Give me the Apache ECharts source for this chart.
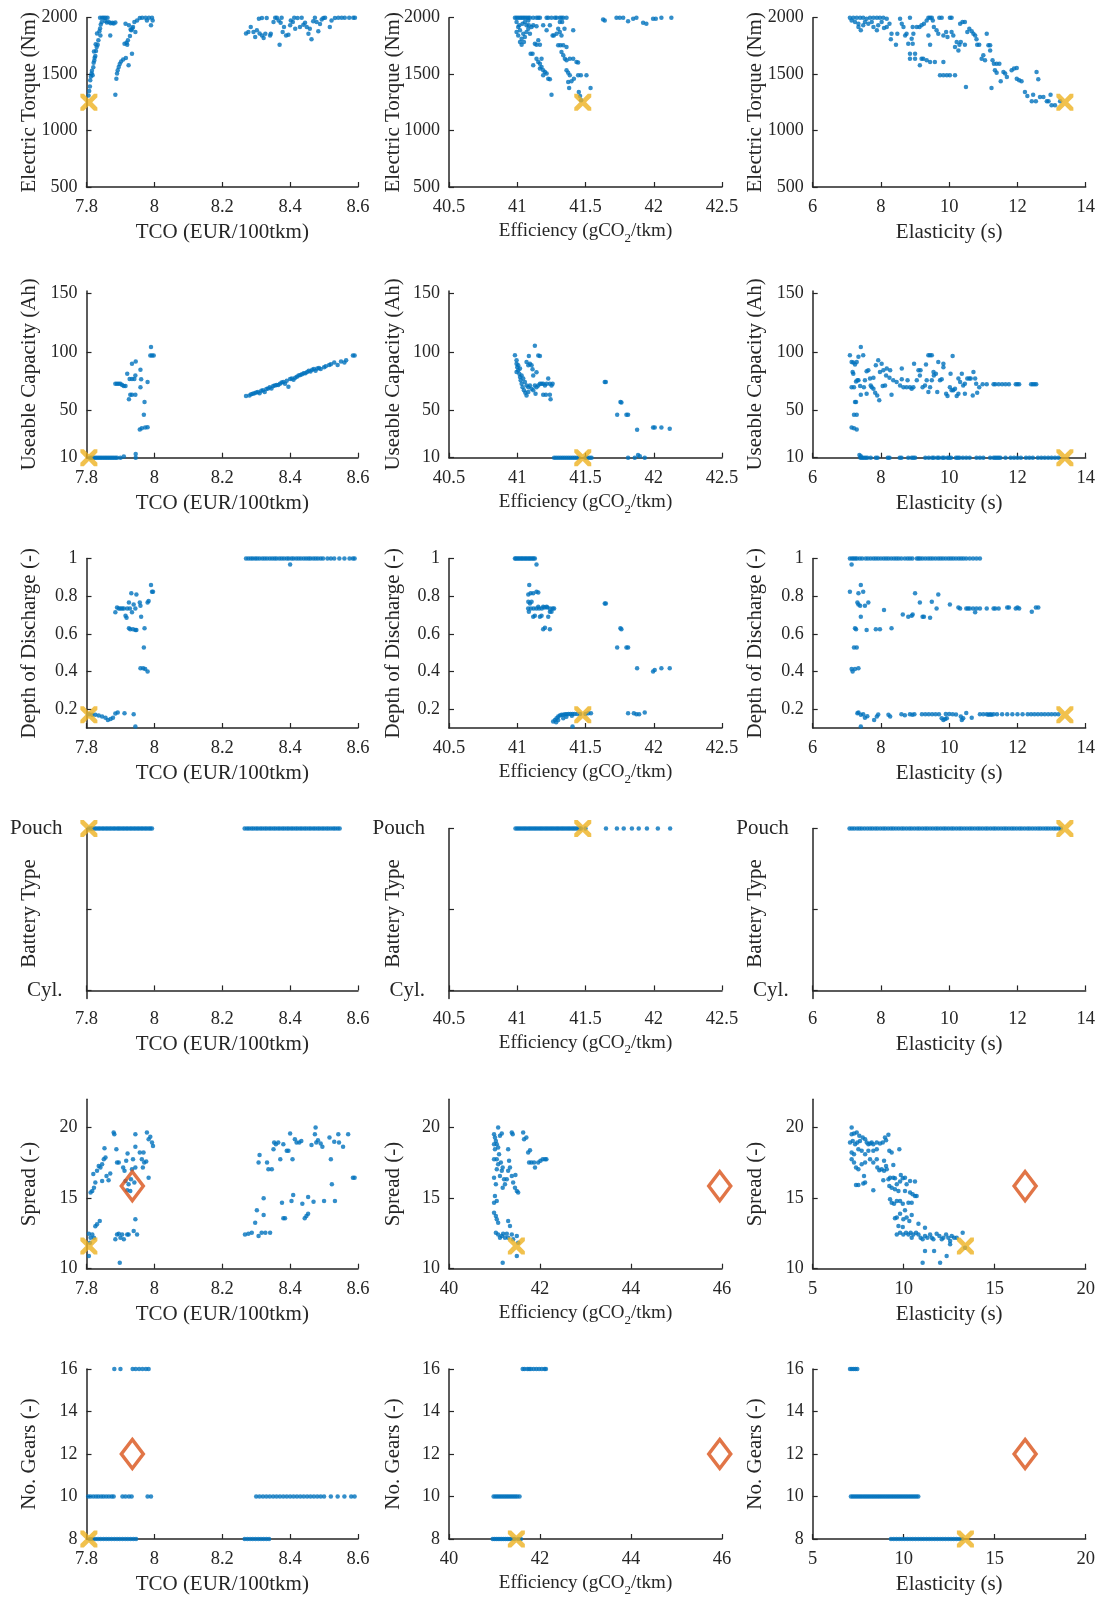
<!DOCTYPE html>
<html><head><meta charset="utf-8">
<script src="https://cdn.jsdelivr.net/npm/echarts@6/dist/echarts.min.js"></script>
<style>html,body{margin:0;padding:0;background:#fff}#c{width:1101px;height:1599px}</style>
</head><body><div id="c"></div>
<script>
// ---------- DATA ----------
const xNames = ['TCO (EUR/100tkm)', 'Efficiency (gCO{s|2}/tkm)', 'Elasticity (s)'];
const yNames = ['Electric Torque (Nm)', 'Useable Capacity (Ah)', 'Depth of Discharge (-)', 'Battery Type', 'Spread (-)', 'No. Gears (-)'];
const xTicksTop = [[7.8, 8, 8.2, 8.4, 8.6], [40.5, 41, 41.5, 42, 42.5], [6, 8, 10, 12, 14]];
const xTicksLow = [[7.8, 8, 8.2, 8.4, 8.6], [40, 42, 44, 46], [5, 10, 15, 20]];
const yTicks = [[500, 1000, 1500, 2000], [10, 50, 100, 150], [0.2, 0.4, 0.6, 0.8, 1], [0, 0.5, 1], [10, 15, 20], [8, 10, 12, 14, 16]];
const yRange = [[500, 2000], [10, 152], [0.1, 1], [-0.05, 1], [10, 22], [8, 16]];
const typeLabels = ['Cyl.', 'Pouch'];

// best design (X) and reference (diamond)
const bestObj = [7.807, 41.48, 13.39];
const bestPar = [1250, 10, 0.17, 1, 11.6, 8];
const refObj = [7.935, 45.95, 16.67];
const refPar = [null, null, null, null, 15.85, 12];

const torqueTco = [[7.806,1310],[7.808,1350],[7.81,1390],[7.811,1445],[7.813,1480],[7.815,1505],[7.816,1530],[7.818,1490],[7.82,1560],[7.821,1600],[7.823,1620],[7.824,1645],[7.826,1660],[7.822,1700],[7.828,1705],[7.83,1740],[7.833,1760],[7.827,1765],[7.835,1800],[7.831,1860],[7.838,1880],[7.84,1905],[7.842,1940],[7.845,1962],[7.84,2000],[7.846,2000],[7.851,2000],[7.856,2000],[7.862,2000],[7.855,1970],[7.86,1958],[7.866,1962],[7.871,1950],[7.876,1955],[7.88,1948],[7.885,1958],[7.87,1843],[7.841,1843],[7.885,1318],[7.888,1460],[7.89,1505],[7.892,1535],[7.895,1563],[7.898,1590],[7.902,1612],[7.908,1630],[7.916,1643],[7.924,1578],[7.934,1681],[7.912,1770],[7.918,1778],[7.922,1800],[7.928,1838],[7.932,1888],[7.937,1917],[7.944,1873],[7.941,1962],[7.949,1976],[7.957,1997],[7.964,2000],[7.974,2000],[7.984,2000],[7.993,2000],[7.99,1932],[7.995,1976],[7.978,1976],[7.915,1947],[7.925,1932],[7.92,1760],[7.93,1895],[7.935,1905],
[8.27,1860],[8.277,1873],[8.284,1917],[8.292,1873],[8.297,1830],[8.302,1888],[8.31,1860],[8.317,1843],[8.322,1820],[8.327,1858],[8.308,1991],[8.317,1997],[8.331,1997],[8.341,1843],[8.343,1858],[8.351,1962],[8.356,2000],[8.361,2000],[8.366,1976],[8.369,1761],[8.372,1956],[8.375,2000],[8.378,1873],[8.382,1917],[8.388,1843],[8.395,1850],[8.4,1932],[8.402,1976],[8.408,1962],[8.412,2000],[8.415,1902],[8.422,1997],[8.429,1917],[8.434,2000],[8.439,1938],[8.444,1956],[8.449,1917],[8.454,1858],[8.458,1902],[8.463,1808],[8.468,1968],[8.473,2000],[8.478,1962],[8.483,1880],[8.488,1944],[8.493,1985],[8.498,1997],[8.503,2000],[8.517,1917],[8.522,1976],[8.532,1997],[8.542,2000],[8.552,2000],[8.561,2000],[8.574,2000],[8.586,2000],[8.591,2000]];

const torqueEff = [[40.983,2000],[40.995,2000],[41.007,2000],[41.02,2000],[41.032,2000],[41.044,2000],[41.056,2000],[41.068,2000],[41.081,2000],[41.093,2000],[41.117,2000],[41.141,2000],[41.154,2000],[41.166,2000],[41.215,2000],[41.227,2000],[41.251,2000],[41.276,2000],[41.288,2000],[41.312,2000],[41.324,2000],[41.337,2000],[41.361,2000],
[40.995,1962],[41.007,1917],[40.995,1873],[41.007,1843],[41.02,1888],[41.032,1814],[41.044,1858],[41.056,1830],[41.068,1873],[41.081,1902],[41.02,1785],[41.032,1761],[41.049,1785],[41.068,1932],[41.085,1932],[41.093,1858],[41.105,1917],[41.039,1947],[41.015,1932],[41.056,1962],[41.081,1976],[41.117,1932],[41.141,1925],[41.154,1800],[41.129,1770],[41.141,1761],[41.166,1761],[41.098,1681],[41.112,1681],[41.117,1578],[41.141,1637],[41.154,1607],[41.166,1592],[41.178,1563],[41.19,1534],[41.203,1519],[41.19,1490],[41.215,1505],[41.227,1460],[41.239,1454],[41.251,1318],[41.178,1637],[41.166,1549],
[41.19,1932],[41.215,1888],[41.239,1932],[41.259,1843],[41.268,1843],[41.288,1858],[41.3,1902],[41.312,1873],[41.324,1843],[41.312,1962],[41.329,1962],[41.346,1902],[41.41,1888],[41.3,1755],[41.317,1755],[41.337,1755],[41.361,1740],[41.324,1696],[41.337,1667],[41.349,1637],[41.361,1622],[41.385,1637],[41.41,1637],[41.434,1607],[41.446,1602],[41.361,1534],[41.373,1513],[41.385,1490],[41.373,1430],[41.397,1436],[41.415,1460],[41.446,1490],[41.466,1490],[41.507,1490],[41.38,1377],[41.451,1342],[41.46,1306],[41.468,1268],[41.537,1377],
[41.629,1985],[41.641,1976],[41.727,2000],[41.751,2000],[41.776,2000],[41.812,1968],[41.849,1991],[41.873,2000],[41.922,1956],[41.946,1947],[41.995,1991],[42.015,1991],[42.056,2000],[42.129,2000]];

const torqueEla = [[7.09,2000],[7.19,2000],[7.29,2000],[7.39,2000],[7.48,2000],[7.58,1991],[7.68,2000],[7.78,2000],[7.88,2000],[7.97,2000],[8.07,2000],[8.17,1991],[7.14,1976],[7.24,1962],[7.34,1947],[7.34,1917],[7.41,1888],[7.48,1932],[7.53,1962],[7.63,1947],[7.73,1962],[7.78,1917],[7.88,1888],[7.92,1932],[8.02,1962],[8.09,1908],[8.17,1917],[8.25,1947],[8.31,1858],[8.29,1808],[8.44,1761],[8.48,1858],[8.56,1991],[8.61,1947],[8.66,1917],[8.71,1843],[8.75,1858],[8.8,1770],[8.85,2000],[8.9,1814],[8.93,1917],[8.93,1770],[8.95,1858],[8.85,1681],[9.0,1681],[8.85,1637],[9.0,1637],[9.14,1578],[9.19,1637],[9.24,1637],[9.34,1622],[9.44,1607],[9.58,1607],[9.83,1607],[9.73,1490],[9.83,1490],[9.93,1490],[10.02,1490],[10.17,1490],[10.49,1386],[9.05,1917],[9.13,1917],[9.19,1932],[9.26,1947],[9.34,1976],[9.39,2000],[9.44,2000],[9.49,2000],[9.52,1976],[9.39,1843],[9.44,1761],[9.55,1917],[9.63,1888],[9.68,1858],[9.71,2000],[9.78,2000],[9.83,1843],[9.91,1873],[9.95,1830],[10.02,2000],[10.07,2000],[10.07,1873],[10.12,1843],[10.17,1740],[10.22,1785],[10.27,1710],[10.3,1761],[10.34,1785],[10.32,1947],[10.39,1962],[10.46,1962],[10.46,1761],[10.53,1873],[10.59,1902],[10.66,1880],[10.71,1858],[10.76,1843],[10.8,1808],[10.82,1761],[10.88,1761],[10.95,1637],[11.0,1667],[11.05,1622],[11.1,1858],[11.15,1755],[11.2,1710],[11.2,1755],[11.24,1377],[11.27,1622],[11.31,1592],[11.34,1534],[11.39,1513],[11.39,1592],[11.47,1592],[11.51,1436],[11.59,1519],[11.64,1505],[11.69,1475],[11.83,1534],[11.9,1549],[11.98,1555],[11.98,1460],[12.05,1445],[12.12,1436],[12.22,1342],[12.29,1306],[12.42,1259],[12.46,1318],[12.54,1259],[12.56,1519],[12.61,1454],[12.66,1297],[12.76,1297],[12.86,1259],[12.91,1259],[12.97,1318],[13.0,1224],[13.1,1224],[13.25,1259]];

const capTco = [[7.81,10],[7.815,10],[7.82,10],[7.825,10],[7.83,10],[7.835,10],[7.84,10],[7.845,10],[7.85,10],[7.855,10],[7.86,10],[7.865,10],[7.87,10],[7.875,10],[7.88,10],[7.885,10],[7.89,10],[7.9,10],[7.91,11],[7.945,13.2],[7.945,10],
[7.885,73],[7.89,73],[7.895,73],[7.9,73],[7.905,72],[7.91,71],[7.915,71],[7.925,59.7],[7.929,63.7],[7.934,63.7],[7.944,63.7],[7.927,77],[7.934,77],[7.92,81.6],[7.934,90],[7.941,77],[7.945,92],[7.944,80],[7.959,85],[7.961,76.8],[7.959,70],[7.971,57.4],[7.969,46.6],[7.957,34],[7.963,35],[7.973,35.8],[7.98,36],[7.98,74.5],[7.988,97],[7.993,97],[7.998,97],[7.99,104.4],
[8.27,62.5],[8.28,63],[8.285,64],[8.29,64.5],[8.295,65],[8.3,65.5],[8.305,66],[8.31,65],[8.315,67],[8.32,67.5],[8.325,66],[8.33,68.5],[8.335,69],[8.34,70],[8.345,69],[8.35,71],[8.355,71.5],[8.36,72],[8.365,72],[8.37,73],[8.375,74],[8.38,74.5],[8.385,73],[8.39,75.5],[8.395,70.5],[8.4,77],[8.405,77.5],[8.41,76.5],[8.415,78],[8.42,79],[8.425,80],[8.43,80.5],[8.435,81],[8.44,82],[8.445,82],[8.45,83],[8.455,84],[8.46,83.5],[8.465,85],[8.47,85.5],[8.475,84],[8.48,86],[8.485,86.5],[8.49,85.5],[8.5,87],[8.505,88],[8.515,89],[8.52,89.5],[8.53,91],[8.54,89],[8.55,92],[8.56,91],[8.565,93],[8.585,97],[8.59,97]];

const capEff = [[40.983,97.3],[40.995,93],[40.995,90],[41.0,87],[41.007,84.5],[41.015,81.6],[41.02,78.8],[41.025,76],[41.032,73],[41.039,70],[41.049,67.4],[41.059,65.4],[41.068,63],[41.081,66],[40.995,83],[41.007,88.7],[41.02,86],[41.032,80],[41.044,77.4],[41.056,74.5],[41.068,71.6],[41.081,70],[41.068,91.6],[41.081,88.7],[41.093,90],[41.105,88.7],[41.112,85.3],[41.117,80],[41.085,96.7],[41.093,71.6],[41.105,68.8],[41.117,67.4],[41.129,71.6],[41.141,70],[41.154,71.6],[41.166,73],[41.178,73],[41.19,73],[41.203,71.6],[41.215,73],[41.227,77.4],[41.239,73],[41.251,71.6],[41.259,73],[41.19,63.7],[41.21,63.7],[41.239,63.7],[41.244,59.7],[41.129,105.3],[41.154,97],[41.166,96.7],[41.141,82.7],[41.134,64.5],
[41.641,74.5],[41.649,74.5],[41.756,57.4],[41.763,57],[41.732,46.6],[41.8,46.6],[41.812,46.6],[41.878,33.8],[41.995,35.8],[42.007,35.8],[42.056,35.8],[42.117,34.6],[41.885,12.4],[41.898,11.2],
[41.27,10],[41.285,10],[41.3,10],[41.315,10],[41.33,10],[41.345,10],[41.36,10],[41.375,10],[41.39,10],[41.405,10],[41.42,10],[41.435,10],[41.45,10],[41.5,10],[41.515,10],[41.53,10],[41.544,10],[41.812,10],[41.861,10],[41.934,10]];

const capEla = [[7.4,10],[7.45,10],[7.5,10],[7.55,10],[7.6,10],[7.7,10],[7.85,10],[7.9,10],[8.2,10],[8.25,10],[8.55,10],[8.6,10],[8.8,10],[8.9,10],[8.95,10],[9.0,10],[9.3,10],[9.4,10],[9.5,10],[9.55,10],[9.65,10],[9.7,10],[9.8,10],[9.85,10],[9.95,10],[10.0,10],[10.05,10],[10.2,10],[10.25,10],[10.3,10],[10.4,10],[10.5,10],[10.6,10],[10.8,10],[10.9,10],[11.0,10],[11.2,10],[11.3,10],[11.35,10],[11.4,10],[11.45,10],[11.5,10],[11.65,10],[11.8,10],[11.9,10],[12.0,10],[12.1,10],[12.25,10],[12.35,10],[12.45,10],[12.6,10],[12.7,10],[12.8,10],[12.9,10],[13.0,10],[13.1,10],[13.2,10],[7.37,12.4],[7.41,11.2],
[7.09,97.3],[7.14,91.6],[7.19,91],[7.24,89.3],[7.29,91.6],[7.34,95.9],[7.41,104.4],[7.48,97.3],[7.14,70],[7.21,70],[7.17,83],[7.19,81.6],[7.27,75],[7.31,76],[7.34,76],[7.39,71],[7.41,63.7],[7.24,57.4],[7.27,57.4],[7.21,46.6],[7.29,46.6],[7.14,35.8],[7.21,35],[7.29,34],[7.5,70],[7.53,76],[7.58,83.6],[7.58,64.5],[7.63,84.5],[7.68,77.4],[7.7,71.6],[7.73,70],[7.78,68.8],[7.78,78],[7.83,65.4],[7.85,88.7],[7.89,63],[7.92,93],[7.95,59],[7.97,83],[8.02,90],[8.05,71],[8.07,84.5],[8.12,71.6],[8.15,80],[8.17,86],[8.25,78],[8.31,63.7],[8.27,84.5],[8.36,76],[8.46,74.5],[8.56,71.6],[8.61,76.8],[8.61,86],[8.66,70],[8.75,70],[8.78,76],[8.85,70],[8.9,68.8],[8.95,70],[8.97,90],[9.05,76],[9.1,84.5],[9.14,80],[9.16,84.5],[9.22,70],[9.29,71.6],[9.32,89.3],[9.34,76],[9.39,97.3],[9.44,97.3],[9.49,97.3],[9.39,66],[9.44,70],[9.49,76],[9.54,83],[9.55,80],[9.61,81.6],[9.68,91.6],[9.65,66],[9.73,76],[9.78,76.8],[9.83,90],[9.83,87],[9.91,64.5],[9.95,62.5],[10.02,70],[10.07,67.4],[10.04,81.6],[10.1,96.7],[10.12,67.4],[10.17,68.8],[10.22,62.5],[10.27,64.5],[10.27,77.4],[10.32,74.5],[10.37,81.6],[10.41,71.6],[10.46,73],[10.46,64.5],[10.53,77.4],[10.59,77.4],[10.63,77.4],[10.69,63],[10.71,83],[10.76,77.4],[10.79,73],[10.82,65.4],[10.88,70],[10.98,72.5],[11.1,72.5],[11.3,72.5],[11.35,72.5],[11.45,72.5],[11.55,72.5],[11.65,72.5],[11.75,72.5],[11.95,72.5],[12.0,72.5],[12.05,72.5],[12.4,72.5],[12.45,72.5],[12.5,72.5],[12.55,72.5]];

const dodTco = [[8.27,1],[8.277,1],[8.284,1],[8.29,1],[8.297,1],[8.303,1],[8.31,1],[8.318,1],[8.325,1],[8.332,1],[8.34,1],[8.347,1],[8.354,1],[8.36,1],[8.368,1],[8.375,1],[8.382,1],[8.39,1],[8.396,1],[8.404,1],[8.41,1],[8.418,1],[8.425,1],[8.432,1],[8.44,1],[8.447,1],[8.454,1],[8.46,1],[8.468,1],[8.475,1],[8.482,1],[8.49,1],[8.497,1],[8.51,1],[8.52,1],[8.53,1],[8.545,1],[8.56,1],[8.575,1],[8.585,1],[8.59,1],[8.4,0.968],
[7.885,0.714],[7.89,0.74],[7.895,0.735],[7.9,0.735],[7.905,0.735],[7.91,0.735],[7.915,0.696],[7.918,0.686],[7.92,0.735],[7.925,0.767],[7.928,0.735],[7.932,0.815],[7.934,0.714],[7.939,0.756],[7.944,0.735],[7.947,0.809],[7.925,0.629],[7.929,0.625],[7.937,0.625],[7.944,0.62],[7.947,0.62],[7.957,0.767],[7.959,0.749],[7.961,0.691],[7.971,0.629],[7.969,0.528],[7.959,0.417],[7.967,0.417],[7.973,0.413],[7.98,0.4],[7.98,0.767],[7.983,0.774],[7.99,0.859],[7.993,0.823],[7.996,0.823],
[7.807,0.173],[7.817,0.17],[7.826,0.17],[7.836,0.166],[7.846,0.161],[7.856,0.155],[7.863,0.143],[7.871,0.148],[7.878,0.155],[7.885,0.177],[7.892,0.182],[7.912,0.178],[7.939,0.173],[7.944,0.108]];

const dodEff = [[40.983,1],[40.99,1],[41.0,1],[41.01,1],[41.02,1],[41.03,1],[41.04,1],[41.05,1],[41.06,1],[41.07,1],[41.08,1],[41.09,1],[41.1,1],[41.11,1],[41.12,1],[41.129,1],[41.141,0.968],
[41.088,0.859],[41.081,0.809],[41.098,0.815],[41.117,0.815],[41.141,0.823],[41.154,0.82],[41.081,0.77],[41.093,0.761],[41.105,0.77],[41.085,0.717],[41.117,0.691],[41.129,0.696],[41.166,0.691],[41.178,0.696],[41.227,0.691],[41.239,0.717],[41.251,0.717],[41.19,0.625],[41.203,0.632],[41.239,0.625],[41.154,0.744],[41.19,0.744],[41.215,0.744],
[41.08,0.735],[41.1,0.735],[41.12,0.735],[41.14,0.735],[41.16,0.735],[41.18,0.735],[41.2,0.74],[41.22,0.74],[41.24,0.735],[41.26,0.735],[41.27,0.735],
[41.641,0.761],[41.649,0.761],[41.756,0.629],[41.763,0.625],[41.732,0.528],[41.8,0.528],[41.812,0.528],[41.878,0.417],[41.995,0.4],[42.007,0.408],[42.056,0.417],[42.117,0.417],[41.812,0.178],[41.854,0.178],[41.873,0.173],[41.893,0.173],[41.934,0.182],
[41.263,0.134],[41.276,0.143],[41.288,0.152],[41.3,0.161],[41.312,0.166],[41.324,0.17],[41.337,0.17],[41.35,0.173],[41.362,0.173],[41.375,0.175],[41.39,0.175],[41.405,0.175],[41.42,0.175],[41.44,0.175],[41.46,0.175],[41.5,0.175],[41.52,0.178],[41.54,0.178],[41.337,0.152],[41.36,0.16],[41.4,0.165],[41.405,0.108],[41.3,0.143],[41.285,0.13]];

const dodEla = [[7.09,1],[7.15,1],[7.2,1],[7.25,1],[7.3,1],[7.38,1],[7.45,1],[7.55,1],[7.62,1],[7.7,1],[7.78,1],[7.85,1],[7.92,1],[8.0,1],[8.08,1],[8.15,1],[8.22,1],[8.3,1],[8.38,1],[8.45,1],[8.52,1],[8.6,1],[8.7,1],[8.78,1],[8.85,1],[8.92,1],[9.05,1],[9.1,1],[9.15,1],[9.22,1],[9.3,1],[9.38,1],[9.45,1],[9.52,1],[9.6,1],[9.68,1],[9.75,1],[9.82,1],[9.9,1],[9.98,1],[10.05,1],[10.12,1],[10.2,1],[10.28,1],[10.35,1],[10.42,1],[10.5,1],[10.6,1],[10.7,1],[10.8,1],[10.9,1],[7.14,0.968],
[7.09,0.823],[7.31,0.767],[7.34,0.815],[7.41,0.859],[7.48,0.823],[7.34,0.756],[7.39,0.749],[7.41,0.691],[7.53,0.749],[7.63,0.767],[7.24,0.629],[7.27,0.625],[7.58,0.62],[7.85,0.625],[7.97,0.625],[8.31,0.629],[8.09,0.726],[7.21,0.528],[7.29,0.528],[7.14,0.413],[7.17,0.4],[7.24,0.413],[7.34,0.417],[8.64,0.703],[8.8,0.691],[8.9,0.696],[8.93,0.703],[9.0,0.815],[9.14,0.767],[9.22,0.691],[9.26,0.691],[9.44,0.686],[9.49,0.77],[9.63,0.735],[9.68,0.809],[10.02,0.756],[10.27,0.74],[10.32,0.735],[10.5,0.735],[10.55,0.735],[10.6,0.735],[10.7,0.735],[10.8,0.735],[10.9,0.735],[11.1,0.735],[11.3,0.735],[11.35,0.735],[11.45,0.735],[11.7,0.74],[11.75,0.74],[11.95,0.735],[12.0,0.74],[12.05,0.735],[10.76,0.714],[12.42,0.717],[12.54,0.74],[12.61,0.74],
[7.31,0.178],[7.34,0.182],[7.41,0.17],[7.48,0.173],[7.53,0.155],[7.6,0.162],[7.8,0.143],[7.88,0.161],[7.92,0.172],[8.22,0.17],[8.27,0.161],[8.6,0.173],[8.7,0.168],[8.85,0.173],[8.92,0.17],[8.98,0.173],[9.2,0.173],[9.3,0.173],[9.4,0.173],[9.5,0.173],[9.6,0.173],[9.7,0.173],[9.78,0.152],[9.83,0.143],[9.88,0.148],[9.93,0.152],[9.9,0.175],[10.0,0.175],[10.1,0.173],[10.2,0.172],[10.34,0.161],[10.37,0.143],[10.41,0.152],[10.5,0.18],[10.66,0.155],[10.9,0.173],[11.0,0.173],[11.1,0.173],[11.15,0.17],[11.2,0.173],[11.24,0.17],[11.3,0.173],[11.4,0.173],[11.55,0.173],[11.7,0.173],[11.85,0.173],[12.0,0.173],[12.15,0.173],[12.3,0.173],[12.4,0.173],[12.5,0.173],[12.6,0.173],[12.7,0.173],[12.8,0.173],[12.9,0.173],[13.0,0.173],[13.1,0.173],[13.2,0.173],[7.41,0.108]];

// battery type: 1 = Pouch, 0 = Cyl.
const typeTco = [[7.807,1],[7.813,1],[7.818,1],[7.824,1],[7.829,1],[7.835,1],[7.84,1],[7.846,1],[7.851,1],[7.857,1],[7.862,1],[7.868,1],[7.873,1],[7.879,1],[7.884,1],[7.89,1],[7.895,1],[7.9,1],[7.906,1],[7.911,1],[7.917,1],[7.922,1],[7.928,1],[7.933,1],[7.939,1],[7.944,1],[7.95,1],[7.955,1],[7.961,1],[7.966,1],[7.972,1],[7.977,1],[7.983,1],[7.988,1],[7.993,1],
[8.266,1],[8.273,1],[8.279,1],[8.286,1],[8.292,1],[8.299,1],[8.305,1],[8.312,1],[8.318,1],[8.325,1],[8.331,1],[8.338,1],[8.344,1],[8.351,1],[8.357,1],[8.364,1],[8.37,1],[8.377,1],[8.383,1],[8.39,1],[8.396,1],[8.403,1],[8.409,1],[8.416,1],[8.422,1],[8.429,1],[8.435,1],[8.442,1],[8.448,1],[8.455,1],[8.461,1],[8.468,1],[8.474,1],[8.481,1],[8.487,1],[8.494,1],[8.5,1],[8.507,1],[8.513,1],[8.52,1],[8.527,1],[8.533,1],[8.54,1],[8.546,1]];
const typeEff = [[40.987,1],[41.0,1],[41.013,1],[41.026,1],[41.04,1],[41.053,1],[41.066,1],[41.08,1],[41.093,1],[41.106,1],[41.12,1],[41.133,1],[41.146,1],[41.16,1],[41.173,1],[41.186,1],[41.2,1],[41.213,1],[41.226,1],[41.24,1],[41.253,1],[41.266,1],[41.28,1],[41.293,1],[41.306,1],[41.32,1],[41.333,1],[41.346,1],[41.36,1],[41.373,1],[41.386,1],[41.4,1],[41.413,1],[41.426,1],[41.44,1],[41.453,1],[41.466,1],[41.5,1],[41.65,1],[41.73,1],[41.78,1],[41.84,1],[41.89,1],[41.95,1],[42.03,1],[42.12,1]];
const typeEla = [[7.08,1],[7.15,1],[7.22,1],[7.3,1],[7.37,1],[7.44,1],[7.52,1],[7.6,1],[7.68,1],[7.75,1],[7.83,1],[7.9,1],[7.98,1],[8.06,1],[8.13,1],[8.21,1],[8.29,1],[8.36,1],[8.44,1],[8.52,1],[8.6,1],[8.67,1],[8.75,1],[8.83,1],[8.9,1],[8.98,1],[9.06,1],[9.13,1],[9.21,1],[9.29,1],[9.36,1],[9.44,1],[9.52,1],[9.6,1],[9.67,1],[9.75,1],[9.83,1],[9.9,1],[9.98,1],[10.06,1],[10.13,1],[10.21,1],[10.29,1],[10.36,1],[10.44,1],[10.52,1],[10.6,1],[10.67,1],[10.75,1],[10.83,1],[10.9,1],[10.98,1],[11.06,1],[11.13,1],[11.21,1],[11.29,1],[11.36,1],[11.44,1],[11.52,1],[11.6,1],[11.67,1],[11.75,1],[11.83,1],[11.9,1],[11.98,1],[12.06,1],[12.13,1],[12.21,1],[12.29,1],[12.36,1],[12.44,1],[12.52,1],[12.6,1],[12.67,1],[12.75,1],[12.83,1],[12.9,1],[12.98,1],[13.06,1],[13.13,1],[13.21,1],[13.27,1]];

const spreadTco = [[7.807,12.48],[7.812,12.2],[7.81,11.84],[7.817,12.43],[7.807,10.9],[7.822,12.2],[7.826,13.0],[7.831,13.14],[7.839,13.38],[7.812,15.39],[7.817,15.5],[7.822,15.74],[7.826,16.1],[7.82,16.7],[7.831,16.93],[7.836,17.28],[7.841,17.16],[7.846,17.4],[7.851,17.75],[7.856,17.87],[7.853,18.53],[7.846,16.22],[7.859,16.57],[7.865,16.26],[7.87,16.74],[7.88,19.65],[7.882,19.53],[7.888,18.46],[7.89,17.52],[7.895,17.52],[7.885,12.08],[7.89,12.43],[7.895,12.48],[7.9,12.2],[7.905,12.43],[7.91,12.08],[7.898,10.43],[7.908,17.16],[7.912,16.93],[7.917,17.64],[7.921,18.16],[7.915,16.22],[7.92,15.56],[7.924,15.98],[7.929,15.5],[7.931,16.34],[7.934,17.04],[7.937,17.75],[7.941,16.1],[7.944,17.16],[7.944,18.63],[7.944,19.53],[7.939,12.67],[7.944,13.5],[7.949,12.43],[7.924,12.43],[7.92,12.43],[7.957,18.23],[7.963,17.75],[7.968,18.23],[7.97,17.52],[7.976,17.59],[7.978,19.65],[7.983,19.17],[7.983,16.45],[7.988,19.34],[7.993,18.94],[7.996,18.7],[7.966,17.16],
[8.267,12.43],[8.277,12.48],[8.287,12.55],[8.297,13.26],[8.302,14.14],[8.307,12.32],[8.307,17.52],[8.31,18.06],[8.316,12.55],[8.322,13.8],[8.322,14.99],[8.327,12.55],[8.332,17.52],[8.336,17.04],[8.341,12.55],[8.346,17.04],[8.351,18.46],[8.353,18.94],[8.358,18.82],[8.365,18.94],[8.371,17.75],[8.376,14.68],[8.38,13.57],[8.385,13.57],[8.38,18.82],[8.39,18.35],[8.395,18.35],[8.4,19.57],[8.404,14.8],[8.409,15.22],[8.407,17.75],[8.414,19.17],[8.419,18.94],[8.427,18.94],[8.433,19.05],[8.436,14.6],[8.443,13.57],[8.448,13.74],[8.453,13.9],[8.453,15.08],[8.463,18.77],[8.469,14.75],[8.473,19.53],[8.475,20.0],[8.477,18.94],[8.482,19.1],[8.49,18.87],[8.495,18.63],[8.5,14.8],[8.516,19.29],[8.52,17.75],[8.523,15.98],[8.53,18.99],[8.532,14.8],[8.542,19.53],[8.544,18.94],[8.556,18.63],[8.571,19.53],[8.585,16.45],[8.59,16.45]];

const spreadEff = [[41.08,20],[40.99,19.53],[41.01,19.29],[41.03,19.05],[40.99,18.82],[41.05,18.82],[41.01,18.46],[41.08,18.58],[41.12,19.41],[41.16,19.57],[41.1,18.11],[40.99,17.75],[41.05,17.75],[41.08,17.4],[41.14,17.52],[41.05,17.04],[41.16,16.93],[41.18,17.16],[40.99,16.45],[41.03,15.98],[41.12,16.57],[41.21,16.34],[41.18,15.74],[41.23,15.98],[41.27,16.34],[41.3,16.93],[41.32,17.64],[41.3,18.46],[41.34,17.16],[41.38,16.57],[41.41,16.1],[41.45,15.74],[41.49,15.5],[41.52,15.39],[41.46,16.64],[41.01,15.15],[40.99,14.68],[41.05,14.8],[40.99,13.97],[41.03,13.74],[41.05,13.5],[41.08,13.26],[41.03,12.55],[41.08,12.43],[41.12,12.2],[41.16,12.32],[41.19,12.48],[41.23,12.2],[41.27,12.48],[41.3,13.38],[41.34,13.02],[41.3,12.2],[41.38,12.43],[41.41,12.08],[41.49,12.32],[41.52,11.84],[41.49,10.9],[41.18,10.43],[41.38,19.65],[41.4,19.53],[41.63,19.65],[41.65,19.17],[41.7,19.29],[41.74,18.23],[41.78,18.39],[41.76,17.52],[41.81,17.52],[41.87,17.52],[41.89,17.16],[41.96,17.52],[42.01,17.64],[42.06,17.75],[42.11,17.75],[42.14,17.75]];

const spreadEla = [[7.14,20],[7.14,19.53],[7.27,19.57],[7.42,19.65],[7.56,19.41],[7.05,18.94],[7.2,19.05],[7.33,18.82],[7.45,18.94],[7.6,19.05],[7.75,19.29],[7.88,19.17],[7.97,18.94],[8.06,18.82],[8.15,18.87],[8.24,18.94],[8.33,18.82],[8.52,18.94],[8.7,18.87],[8.85,18.94],[8.97,19.29],[9.16,19.48],[9.03,19.1],[7.14,18.23],[7.27,18.11],[7.51,18.46],[7.69,18.35],[7.88,18.11],[8.06,18.35],[8.33,18.35],[8.52,18.46],[7.14,17.75],[7.27,17.52],[7.38,17.16],[7.51,17.04],[7.69,17.4],[7.88,17.52],[8.15,17.75],[8.33,17.52],[8.52,17.75],[8.55,17.16],[8.66,16.97],[8.79,17.04],[8.92,16.93],[9.03,17.28],[8.92,17.64],[9.07,17.04],[9.43,17.35],[9.21,18.35],[9.34,18.23],[9.76,18.46],[7.38,15.93],[7.51,15.93],[7.78,16.03],[7.88,16.1],[7.82,16.57],[8.33,15.56],[8.88,16.26],[9.16,16.34],[9.25,16.45],[9.43,16.45],[9.52,16.41],[9.84,16.64],[9.95,16.41],[9.8,16.17],[10.07,16.45],[10.35,16.22],[10.62,16.17],[9.21,15.86],[9.34,15.74],[9.52,15.62],[9.71,15.5],[9.62,15.98],[10.07,15.5],[10.16,15.98],[10.35,15.39],[10.49,15.27],[10.62,15.15],[10.71,15.15],[9.25,14.92],[9.34,14.68],[9.47,14.6],[9.62,14.8],[9.8,14.8],[9.95,14.6],[10.26,14.68],[10.44,14.68],[9.52,13.57],[9.62,13.62],[9.8,13.9],[10.07,14.14],[9.98,13.5],[10.16,13.62],[10.31,13.38],[10.44,13.8],[9.71,13.02],[9.95,12.95],[9.62,12.43],[9.8,12.55],[9.98,12.43],[10.13,12.55],[10.26,12.43],[10.38,12.55],[10.53,12.43],[10.68,12.55],[10.81,13.19],[10.81,12.43],[10.93,12.2],[11.04,12.08],[11.17,12.9],[11.17,12.32],[11.3,12.2],[11.45,12.43],[11.54,12.2],[11.63,12.08],[11.81,12.48],[11.96,12.32],[12.09,12.08],[12.18,12.2],[12.33,12.43],[12.45,12.2],[12.55,11.96],[12.64,12.32],[12.77,12.2],[12.91,12.2],[13.24,12.55],[13.37,11.49],[11.04,10.43],[11.17,11.25],[11.67,11.25],[12.0,10.43],[12.36,10.9],[12.55,11.73],[10.44,12.2]];

const gearsTco = [[7.882,16],[7.9,16],[7.936,16],[7.945,16],[7.955,16],[7.965,16],[7.975,16],[7.983,16],
[7.805,10],[7.812,10],[7.82,10],[7.828,10],[7.835,10],[7.843,10],[7.85,10],[7.858,10],[7.866,10],[7.874,10],[7.88,10],[7.906,10],[7.915,10],[7.925,10],[7.933,10],[7.98,10],[7.99,10],
[8.3,10],[8.31,10],[8.32,10],[8.33,10],[8.34,10],[8.35,10],[8.36,10],[8.37,10],[8.38,10],[8.39,10],[8.4,10],[8.41,10],[8.42,10],[8.43,10],[8.44,10],[8.45,10],[8.46,10],[8.47,10],[8.48,10],[8.49,10],[8.5,10],[8.52,10],[8.54,10],[8.56,10],[8.58,10],[8.59,10],
[7.81,8],[7.818,8],[7.826,8],[7.834,8],[7.842,8],[7.85,8],[7.858,8],[7.866,8],[7.874,8],[7.882,8],[7.89,8],[7.898,8],[7.906,8],[7.914,8],[7.922,8],[7.93,8],[7.938,8],[7.946,8],
[8.266,8],[8.274,8],[8.282,8],[8.29,8],[8.298,8],[8.306,8],[8.314,8],[8.322,8],[8.33,8],[8.338,8]];
const gearsEff = [[41.62,16],[41.66,16],[41.72,16],[41.76,16],[41.8,16],[41.86,16],[41.92,16],[41.98,16],[42.04,16],[42.1,16],[42.13,16],
[40.98,10],[41.02,10],[41.06,10],[41.1,10],[41.14,10],[41.18,10],[41.22,10],[41.26,10],[41.3,10],[41.34,10],[41.38,10],[41.42,10],[41.46,10],[41.5,10],[41.55,10],
[40.96,8],[41.0,8],[41.04,8],[41.08,8],[41.12,8],[41.16,8],[41.2,8],[41.24,8],[41.28,8],[41.32,8],[41.36,8],[41.4,8],[41.44,8],[41.52,8],[41.58,8]];
const gearsEla = [[7.05,16],[7.15,16],[7.25,16],[7.35,16],[7.45,16],
[7.1,10],[7.2,10],[7.3,10],[7.4,10],[7.5,10],[7.6,10],[7.7,10],[7.8,10],[7.9,10],[8.0,10],[8.1,10],[8.2,10],[8.3,10],[8.4,10],[8.5,10],[8.6,10],[8.7,10],[8.8,10],[8.9,10],[9.0,10],[9.1,10],[9.2,10],[9.3,10],[9.4,10],[9.5,10],[9.6,10],[9.7,10],[9.8,10],[9.9,10],[10.0,10],[10.1,10],[10.2,10],[10.3,10],[10.4,10],[10.5,10],[10.6,10],[10.7,10],[10.8,10],
[9.3,8],[9.45,8],[9.6,8],[9.75,8],[9.9,8],[10.05,8],[10.2,8],[10.35,8],[10.5,8],[10.65,8],[10.8,8],[10.95,8],[11.1,8],[11.25,8],[11.4,8],[11.55,8],[11.7,8],[11.85,8],[12.0,8],[12.15,8],[12.3,8],[12.45,8],[12.6,8],[12.75,8],[12.9,8],[13.05,8],[13.2,8]];

const panelData = [
  [torqueTco, torqueEff, torqueEla],
  [capTco, capEff, capEla],
  [dodTco, dodEff, dodEla],
  [typeTco, typeEff, typeEla],
  [spreadTco, spreadEff, spreadEla],
  [gearsTco, gearsEff, gearsEla]
];

// ---------- LAYOUT ----------
const colLeft = [86.5, 449, 812.7];
const colRight = [358, 722, 1085.7];
const rowTop = [17.7, 291, 558.5, 828.5, 1099.3, 1369];
const rowBottom = [187, 457.7, 728, 998.5, 1268.7, 1539];

const FONT = '"Liberation Serif", "DejaVu Serif", serif';
const INK = '#262626';
const BLUE = '#0072BD';
const ORANGE = '#EDB120';
const RED = '#D95319';
const XPATH = 'path://M0,0 L4,0 L10,6 L16,0 L20,0 L20,4 L14,10 L20,16 L20,20 L16,20 L10,14 L4,20 L0,20 L0,16 L6,10 L0,4 Z';

const grids = [], xAxes = [], yAxes = [], series = [];
let idx = 0;
for (let r = 0; r < 6; r++) {
  for (let c = 0; c < 3; c++) {
    grids.push({left: colLeft[c], top: rowTop[r], width: colRight[c] - colLeft[c], height: rowBottom[r] - rowTop[r],
      containLabel: false, outerBoundsMode: 'none'});
    const low = r >= 4;
    const xt = low ? xTicksLow[c] : xTicksTop[c];
    const isEff = c === 1;
    xAxes.push({
      gridIndex: idx, type: 'value', min: xt[0], max: xt[xt.length - 1],
      splitLine: {show: false},
      axisLine: {lineStyle: {color: INK, width: 1.5}},
      axisTick: {inside: true, length: 5, lineStyle: {color: INK, width: 1.2}, customValues: xt},
      axisLabel: {customValues: xt, margin: 11, color: INK, fontFamily: FONT, fontSize: 18.5, formatter: v => String(v)},
      name: xNames[c], nameLocation: 'middle', nameGap: isEff ? 31 : 35, nameMoveOverlap: false,
      nameTextStyle: {color: INK, fontFamily: FONT, fontSize: isEff ? 19 : 21,
        rich: {s: {fontSize: 13, fontFamily: FONT, color: INK, padding: [14, 0, 0, 0]}}}
    });
    const yt = yTicks[r];
    const isType = r === 3;
    yAxes.push({
      gridIndex: idx, type: 'value', min: yRange[r][0], max: yRange[r][1],
      splitLine: {show: false},
      axisLine: {lineStyle: {color: INK, width: 1.5}},
      axisTick: {inside: true, length: 5, lineStyle: {color: INK, width: 1.2}, customValues: yt},
      axisLabel: {customValues: isType ? [0, 1] : yt, margin: isType ? 24 : 9, color: INK, fontFamily: FONT,
        fontSize: isType ? 21 : 18,
        padding: isType ? [0, 0, 4, 0] : 0,
        formatter: isType ? (v => typeLabels[Math.round(v)]) : (v => String(v))},
      name: yNames[r], nameLocation: 'middle', nameGap: c === 1 ? 45 : 47, nameRotate: 90, nameMoveOverlap: false,
      nameTextStyle: {color: INK, fontFamily: FONT, fontSize: 21}
    });
    series.push({
      type: 'scatter', xAxisIndex: idx, yAxisIndex: idx, data: panelData[r][c],
      symbol: 'circle', symbolSize: 4.5, itemStyle: {color: BLUE}, clip: false, silent: true, z: 2
    });
    series.push({
      type: 'scatter', xAxisIndex: idx, yAxisIndex: idx, data: [[bestObj[c], bestPar[r]]],
      symbol: XPATH, symbolSize: 17, itemStyle: {color: ORANGE}, clip: false, silent: true, z: 4
    });
    if (refPar[r] !== null) {
      series.push({
        type: 'scatter', xAxisIndex: idx, yAxisIndex: idx, data: [[refObj[c], refPar[r]]],
        symbol: 'diamond', symbolSize: [22, 29], clip: false, silent: true, z: 5,
        itemStyle: {color: 'rgba(0,0,0,0)', borderColor: RED, borderWidth: 3.5}
      });
    }
    idx++;
  }
}

const chart = echarts.init(document.getElementById('c'), null, {renderer: 'canvas'});
chart.setOption({
  animation: false, backgroundColor: '#ffffff',
  grid: grids, xAxis: xAxes, yAxis: yAxes, series: series
});
</script></body></html>
